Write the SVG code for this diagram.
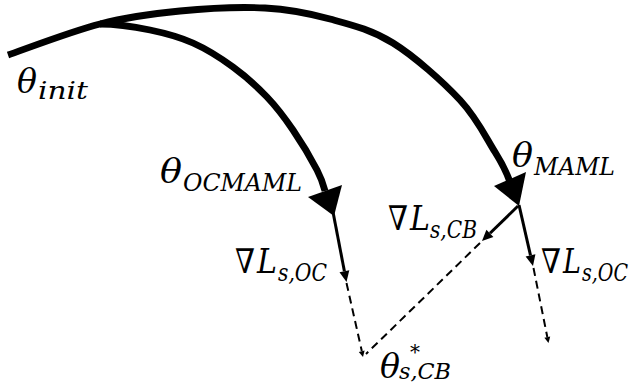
<svg xmlns="http://www.w3.org/2000/svg" width="634" height="385" viewBox="0 0 634 385">
<style>
.bg{fill:#fff}
.arc{fill:none;stroke:#000;stroke-width:6.8;stroke-linecap:butt}
.thin{fill:none;stroke:#000;stroke-width:3}
.dash{fill:none;stroke:#000;stroke-width:2;stroke-dasharray:8 5}
.head{fill:#000;stroke:none}
text{font-family:"DejaVu Serif","Liberation Serif",serif;fill:#000}
.m{font-size:34px;font-style:italic}
.u{font-size:34px;font-style:normal}
.s{font-size:25px;font-style:italic}
.sb{font-size:23px;font-style:italic}
.sup{font-size:20px;font-style:normal}
</style>
<rect class="bg" x="0" y="0" width="634" height="385"/>
<g id="connectors">
  <path id="arc-maml" class="arc" d="M 8,55 C 23.3,49.8 71.3,31.3 100,24 C 128.7,16.7 152.5,13.7 180,11 C 207.5,8.3 240,6.7 265,8 C 290,9.3 308.7,13.2 330,19 C 351.3,24.8 371.3,29.5 393,43 C 414.7,56.5 443,81.8 460,100 C 477,118.2 486.3,138.2 495,152 C 503.7,165.8 507.5,175 510,182"/>
  <polygon class="head" points="494,186 526,172 519,206"/>
  <path id="arc-ocmaml" class="arc" d="M 100,24 C 116,24 134.5,26.8 150,30 C 165.5,33.2 179.2,36.8 193,43 C 206.8,49.2 220.7,58 233,67 C 245.3,76 257,86.5 267,97 C 277,107.5 284.7,117.8 293,130 C 301.3,142.2 311.7,159.8 317,170 C 322.3,180.2 323.7,186 325,191"/>
  <polygon class="head" points="308,197 342,185 334,216"/>
  <line class="thin" x1="333" y1="212" x2="344.4" y2="271.2"/>
  <polygon class="head" points="349.3,270.2 339.5,272.2 346.5,282"/>
  <line class="dash" x1="346.5" y1="283" x2="361.8" y2="351"/>
  <polygon class="head" points="364.6,350.5 358.8,351.9 363,357"/>
  <line class="thin" x1="518" y1="206" x2="490" y2="233.3"/>
  <polygon class="head" points="493.4,236.9 486.4,229.7 482,241"/>
  <line class="dash" x1="480" y1="243" x2="366" y2="354"/>
  <line class="thin" x1="519" y1="205" x2="530.5" y2="255.3"/>
  <polygon class="head" points="535.4,254.2 525.6,256.4 533,266"/>
  <line class="dash" x1="533.5" y1="268" x2="547.3" y2="337"/>
  <polygon class="head" points="550.2,336.5 544.4,337.7 548.5,343"/>
</g>
<g id="theta-init">
  <text class="m" x="17" y="93" textLength="20" lengthAdjust="spacingAndGlyphs">θ</text>
  <text class="s" x="38" y="99" textLength="50" lengthAdjust="spacingAndGlyphs">init</text>
</g>
<g id="theta-ocmaml">
  <text class="m" x="160" y="183" textLength="22" lengthAdjust="spacingAndGlyphs">θ</text>
  <text class="s" x="183" y="191" textLength="119" lengthAdjust="spacingAndGlyphs">OCMAML</text>
</g>
<g id="theta-maml">
  <text class="m" x="512" y="167" textLength="21" lengthAdjust="spacingAndGlyphs">θ</text>
  <text class="s" x="534" y="175" textLength="81" lengthAdjust="spacingAndGlyphs">MAML</text>
</g>
<g id="grad-oc-left">
  <text class="u" x="235" y="273" textLength="20" lengthAdjust="spacingAndGlyphs">∇</text>
  <text class="m" x="257" y="273" textLength="20" lengthAdjust="spacingAndGlyphs">L</text>
  <text class="s" x="278" y="281" textLength="49" lengthAdjust="spacingAndGlyphs">s,OC</text>
</g>
<g id="grad-cb">
  <text class="u" x="388" y="230" textLength="20" lengthAdjust="spacingAndGlyphs">∇</text>
  <text class="m" x="410" y="230" textLength="20" lengthAdjust="spacingAndGlyphs">L</text>
  <text class="s" x="430" y="238" textLength="47" lengthAdjust="spacingAndGlyphs">s,CB</text>
</g>
<g id="grad-oc-right">
  <text class="u" x="541" y="273" textLength="20" lengthAdjust="spacingAndGlyphs">∇</text>
  <text class="m" x="563" y="273" textLength="18" lengthAdjust="spacingAndGlyphs">L</text>
  <text class="s" x="582" y="281" textLength="46" lengthAdjust="spacingAndGlyphs">s,OC</text>
</g>
<g id="theta-star-cb">
  <text class="m" x="380" y="378" textLength="20" lengthAdjust="spacingAndGlyphs">θ</text>
  <text class="sup" x="410" y="359">*</text>
  <text class="sb" x="399" y="379" textLength="52" lengthAdjust="spacingAndGlyphs">s,CB</text>
</g>
</svg>
